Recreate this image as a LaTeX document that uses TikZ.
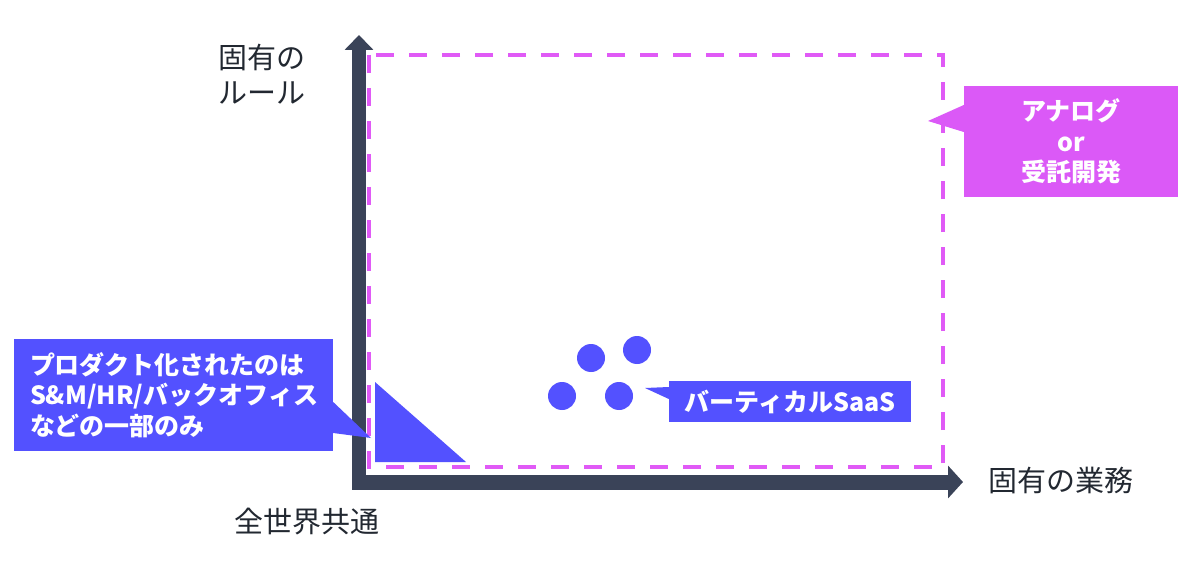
\documentclass[tikz,border=0pt]{standalone}
\usepackage{fontspec}
\setmainfont{Noto Sans CJK JP}
\usetikzlibrary{arrows.meta}
\definecolor{axisc}{HTML}{3A4358}
\definecolor{txtc}{HTML}{222831}
\definecolor{bluec}{HTML}{5351FF}
\definecolor{pinkc}{HTML}{DB59F7}
\definecolor{dashc}{HTML}{E05AF6}
\begin{document}
\begin{tikzpicture}[x=1pt,y=-1pt,
  axis/.style={draw=axisc,line width=14pt},
  lbl/.style={text=txtc,font=\fontsize{29}{35}\selectfont,inner sep=0pt},
  note/.style={text=white,font=\fontsize{25}{30.5}\selectfont\bfseries,inner sep=0pt}]
  \useasboundingbox (0,0) rectangle (1200,567);

  \draw[dashc,line width=4pt,dash pattern=on 18pt off 15pt] (369,55) rectangle (943,467);

  \draw[axis,-{Triangle[length=15pt,width=28pt]}] (359,489.5) -- (359,35); % up axis
  \draw[axis,line width=15pt,-{Triangle[length=15pt,width=32pt]}] (352,482) -- (963,482); % right axis

  \node[lbl,align=left] (rule) at (262,74.5) {固有の\\ルール};
  \node[lbl] (work) at (1061,480) {固有の業務};
  \node[lbl] (world) at (306.5,522) {全世界共通};

  \fill[bluec] (375,382) -- (375,462) -- (466,462) -- cycle;
  \foreach \x/\y in {591/358,637/350,562/396,619/396}
    \fill[bluec] (\x,\y) circle (14pt);

  \node[note,fill=pinkc,align=center,minimum width=214pt,minimum height=111pt] (analog) at (1071,141.5) {アナログ\\or\\受託開発};
  \coordinate (analogtip) at (928,121);
  \fill[pinkc] (analogtip) -- ([yshift=36.5pt]analog.west) -- ([yshift=9.5pt]analog.west) -- cycle;

  \node[note,fill=bluec,align=left,text width=287pt,inner xsep=16pt,minimum height=112pt] (prod) at (173.5,395) {プロダクト化されたのは\\S\&M/HR/バックオフィス\\などの一部のみ};
  \coordinate (prodtip) at (371,438);
  \fill[bluec] (prodtip) -- ([yshift=-7pt]prod.east) -- ([yshift=-38pt]prod.east) -- cycle;

  \node[note,fill=bluec,minimum width=242pt,minimum height=41pt] (saas) at (790,401.5) {バーティカルSaaS};
  \coordinate (saastip) at (645,388);
  \fill[bluec] (saastip) -- ([yshift=14.5pt]saas.west) -- ([yshift=2.5pt]saas.west) -- cycle;
\end{tikzpicture}
\end{document}
